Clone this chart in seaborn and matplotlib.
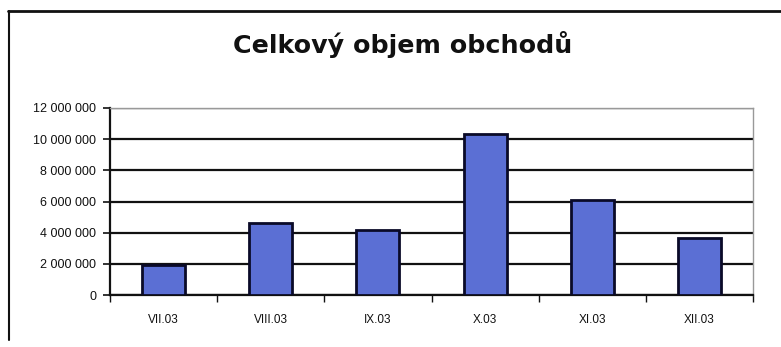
import matplotlib
matplotlib.use("Agg")
import matplotlib.pyplot as plt
import matplotlib.ticker as mticker
from matplotlib.lines import Line2D
import seaborn as sns
import pandas as pd

# Data
months = ["VII.03", "VIII.03", "IX.03", "X.03", "XI.03", "XII.03"]
volume = [1920000, 4590000, 4170000, 10360000, 6090000, 3670000]
y_ticks = [0, 2000000, 4000000, 6000000, 8000000, 10000000, 12000000]
title = "Celkový objem obchodů"

df = pd.DataFrame({"month": months, "volume": volume})

sns.set_theme(style="white")
plt.rcParams["font.family"] = ["Liberation Sans", "DejaVu Sans"]

fig = plt.figure(figsize=(7.81, 3.47), dpi=100)
ax = fig.add_axes([110 / 781, 1 - 295 / 347, (753 - 110) / 781, (295 - 108) / 347])

sns.barplot(data=df, x="month", y="volume", ax=ax, color="#5b6fd4",
            saturation=1, width=0.4, edgecolor="#0a0a28", linewidth=2, zorder=3)

ax.set_ylim(0, 12000000)
ax.set_xlim(-0.5, len(months) - 0.5)
ax.set_yticks(y_ticks)
ax.yaxis.set_major_formatter(mticker.FuncFormatter(lambda v, p: f"{int(v):,}".replace(",", " ")))
ax.set_xlabel("")
ax.set_ylabel("")

# gridlines
ax.yaxis.grid(True, color="#111111", linewidth=1.6, zorder=0)
ax.set_axisbelow(True)

# spines
for s in ["left", "bottom"]:
    ax.spines[s].set_color("#111111")
    ax.spines[s].set_linewidth(1.6)
for s in ["top", "right"]:
    ax.spines[s].set_color("#999999")
    ax.spines[s].set_linewidth(1.0)

# ticks
ax.tick_params(axis="y", which="major", direction="out", length=5, width=1.2,
               color="#111111", left=True, labelsize=9, pad=5)
ax.tick_params(axis="x", which="major", length=0, labelsize=8.5, pad=14)
ax.set_xticks([i - 0.5 for i in range(len(months) + 1)], minor=True)
ax.tick_params(axis="x", which="minor", direction="out", length=5, width=1.0,
               color="#111111", bottom=True)
for lbl in ax.get_yticklabels() + ax.get_xticklabels():
    lbl.set_color("#111111")

fig.text(0.516, 1 - 44 / 347, title, ha="center", va="center",
         fontsize=18.3, fontweight="bold", color="#111111",
         family=["DejaVu Sans"])

# outer frame of the scanned chart
fig.add_artist(Line2D([8 / 781, 1.0], [1 - 11 / 347, 1 - 11 / 347],
                      transform=fig.transFigure, color="#111111", linewidth=2))
fig.add_artist(Line2D([9 / 781, 9 / 781], [1 - 11 / 347, 1 - 340 / 347],
                      transform=fig.transFigure, color="#111111", linewidth=1.5))

fig.savefig("out.png", dpi=100, facecolor="white")
